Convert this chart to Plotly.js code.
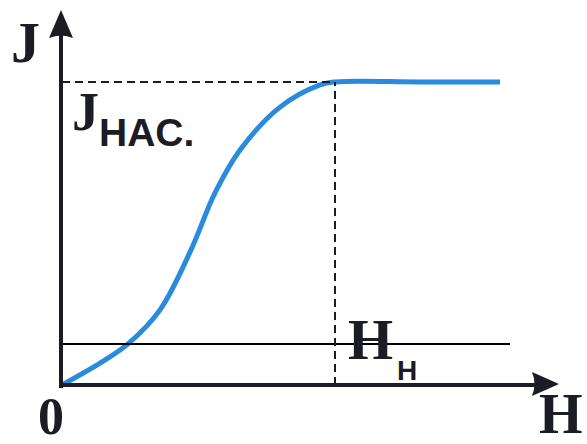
<!DOCTYPE html>
<html><head><meta charset="utf-8">
<script src="https://cdn.plot.ly/plotly-3.0.1.min.js"></script>
<style>html,body{margin:0;padding:0;background:#fff}#c{width:587px;height:444px}</style>
</head><body><div id="c"></div>
<script>
// Magnetization curve J(H)
const hVals = [0, 0.76, 1.32, 1.96, 2.56, 3.06, 3.56, 4.36, 5.16, 5.46, 7.16, 8.76];
const jVals = [0, 0.59, 1.11, 2.03, 3.59, 5.19, 6.35, 7.51, 8.11, 8.19, 8.19, 8.19];
const hSat = 5.46;      // H_H
const jSat = 8.19;      // J_HAC.
const hLineJ = 1.11;    // thin horizontal line level
const hLineEnd = 8.96;

const W = 587, Hh = 444;
const px = x => x / W, py = y => 1 - y / Hh;
const ink = '#1c1c24';

const traces = [{
  x: hVals, y: jVals, mode: 'lines', type: 'scatter',
  line: {color: '#2a8bdc', width: 5, shape: 'spline', smoothing: 1},
  hoverinfo: 'none'
}];

const xr = [-62/50, (587-62)/50], yr = [(385-444)/37, 385/37];
const dx = p => ((p-62)/50).toFixed(3), dy = p => ((385-p)/37).toFixed(3);

const shapes = [
  {type:'line', xref:'x', yref:'y', x0:0, x1:hLineEnd, y0:hLineJ, y1:hLineJ, line:{color:'#000', width:2}},
  {type:'line', xref:'x', yref:'y', x0:0, x1:hSat, y0:jSat, y1:jSat, line:{color:ink, width:2, dash:'8px,5px'}},
  {type:'line', xref:'x', yref:'y', x0:hSat, x1:hSat, y0:0, y1:jSat, line:{color:ink, width:2, dash:'8px,5px'}},
  {type:'line', xref:'paper', yref:'paper', x0:px(61), x1:px(61), y0:py(388), y1:py(30), line:{color:ink, width:4}},
  {type:'line', xref:'paper', yref:'paper', x0:px(59), x1:px(540), y0:py(385), y1:py(385), line:{color:ink, width:4}},
  {type:'path', xref:'x', yref:'y', line:{width:0}, fillcolor:ink,
    path:`M${dx(61)},${dy(10)} L${dx(49)},${dy(38)} Q${dx(61)},${dy(33)} ${dx(73)},${dy(38)} Z`},
  {type:'path', xref:'x', yref:'y', line:{width:0}, fillcolor:ink,
    path:`M${dx(559)},${dy(384)} L${dx(532)},${dy(372)} Q${dx(537)},${dy(384)} ${dx(532)},${dy(396)} Z`}
];

const serif = 'Liberation Serif, DejaVu Serif, serif';
const sans = 'Liberation Sans, Arial, sans-serif';
function ann(text, x, y, size, fam){
  return {text:`<b>${text}</b>`, xref:'paper', yref:'paper', x:px(x), y:py(y),
    xanchor:'center', yanchor:'middle', showarrow:false,
    font:{family:fam, size:size, color:ink}};
}
const annotations = [
  ann('J', 25, 42, 58, serif),
  ann('0', 51, 416, 52, serif),
  ann('H', 561, 414, 56, serif),
  ann('J', 85, 112, 54, serif),
  ann('HAC.', 147, 133, 39, sans),
  ann('H', 370, 339, 58, serif),
  ann('H', 407, 370, 28, sans)
];

const layout = {
  width: W, height: Hh, margin:{l:0,r:0,t:0,b:0},
  paper_bgcolor:'#fff', plot_bgcolor:'#fff', showlegend:false,
  xaxis:{range:xr, visible:false, fixedrange:true},
  yaxis:{range:yr, visible:false, fixedrange:true},
  shapes, annotations
};
Plotly.newPlot('c', traces, layout, {displayModeBar:false, staticPlot:true});
</script></body></html>
